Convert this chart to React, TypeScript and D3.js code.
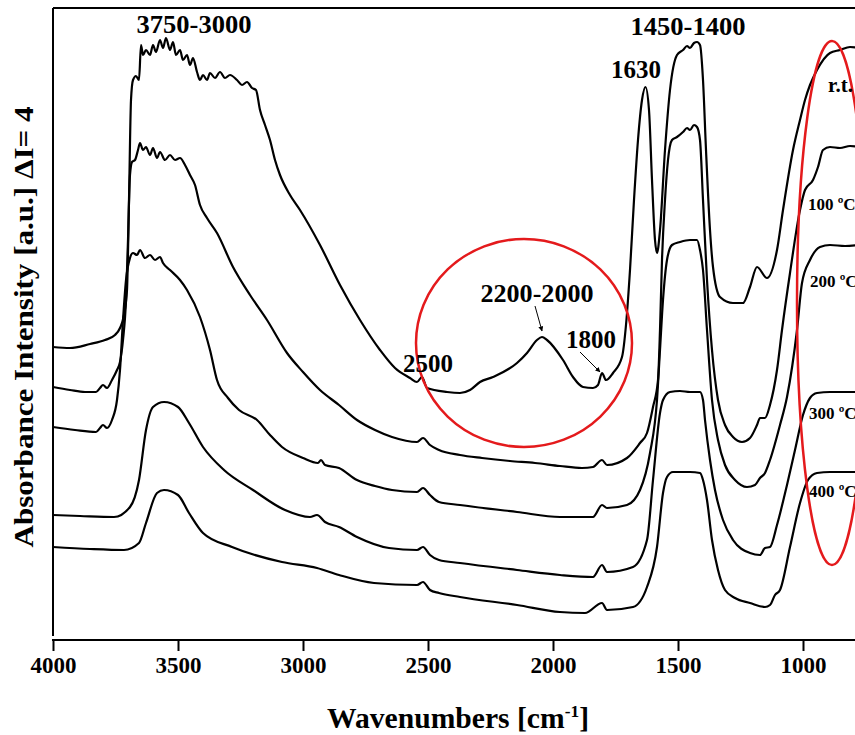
import React, { useEffect, useRef } from "react";
import * as d3 from "d3";

type P = [number, number];

const xTicks = [4000, 3500, 3000, 2500, 2000, 1500, 1000];

const RT: P[] = [
  [4000, 29.3], [3932, 29.2], [3852, 29.6], [3792, 30.0], [3752, 30.5], [3732, 31.2], [3716, 32.5],
  [3704, 35.0], [3696, 44.0], [3688, 54.0], [3680, 56.0], [3668, 56.4], [3656, 56.0], [3648, 59.5],
  [3640, 58.5], [3628, 59.0], [3612, 58.5], [3600, 59.5], [3588, 58.8], [3572, 60.0], [3560, 59.2],
  [3548, 60.2], [3532, 59.0], [3520, 59.8], [3508, 58.5], [3492, 59.0], [3480, 58.0], [3464, 58.5],
  [3452, 57.5], [3440, 58.2], [3424, 56.8], [3412, 56.0], [3400, 56.5], [3384, 56.0], [3372, 56.7],
  [3352, 56.2], [3332, 56.8], [3312, 56.2], [3292, 56.5], [3264, 56.0], [3244, 55.5], [3224, 55.8],
  [3204, 55.2], [3188, 55.0], [3172, 53.0], [3152, 51.5], [3132, 50.0], [3112, 48.0], [3092, 46.5],
  [3052, 44.5], [3012, 43.0], [2932, 39.5], [2852, 35.5], [2772, 32.0], [2692, 29.0], [2632, 27.2],
  [2572, 26.2], [2544, 25.8], [2524, 26.3], [2504, 25.2], [2424, 24.8], [2372, 24.7], [2332, 25.0],
  [2292, 25.8], [2240, 26.3], [2144, 27.7], [2104, 28.7], [2064, 30.0], [2044, 30.3], [2024, 30.0],
  [1960, 28.0], [1920, 26.3], [1880, 25.3], [1840, 25.2], [1820, 25.5], [1804, 26.7], [1788, 26.0],
  [1760, 26.7], [1724, 28.3], [1708, 31.5], [1692, 37.0], [1676, 44.0], [1660, 50.0], [1644, 54.0],
  [1630, 55.3], [1616, 53.0], [1604, 46.0], [1592, 40.0], [1584, 38.7], [1572, 41.0], [1552, 49.0],
  [1532, 55.0], [1504, 58.5], [1480, 59.0], [1464, 59.4], [1452, 59.2], [1436, 59.7], [1424, 59.8],
  [1412, 59.5], [1400, 56.0], [1388, 49.0], [1372, 41.0], [1360, 37.3], [1332, 34.3], [1280, 33.7],
  [1240, 33.7], [1212, 35.3], [1184, 37.3], [1144, 36.2], [1104, 39.0], [1080, 43.0], [1040, 49.0],
  [1012, 52.0], [992, 54.0], [972, 55.5], [944, 57.0], [892, 58.7], [852, 59.0], [812, 59.3], [772, 59.2],
];

const T100: P[] = [
  [4000, 25.3], [3932, 25.0], [3872, 24.8], [3828, 24.8], [3812, 25.2], [3800, 25.5], [3784, 25.2],
  [3764, 26.0], [3744, 27.0], [3732, 27.8], [3720, 30.0], [3708, 34.0], [3700, 40.0], [3692, 46.5],
  [3684, 47.8], [3672, 48.0], [3660, 49.0], [3652, 49.7], [3640, 49.0], [3628, 49.3], [3612, 48.5],
  [3600, 49.2], [3584, 48.2], [3572, 48.8], [3552, 48.0], [3532, 48.5], [3512, 48.0], [3492, 48.2],
  [3472, 47.5], [3452, 46.5], [3432, 45.5], [3412, 43.5], [3384, 42.2], [3344, 40.7], [3280, 37.3],
  [3212, 34.5], [3144, 32.0], [3064, 28.7], [3000, 26.8], [2932, 25.0], [2856, 23.5], [2784, 22.0],
  [2712, 21.0], [2644, 20.3], [2544, 19.8], [2520, 20.2], [2492, 19.5], [2456, 19.0], [2372, 18.5],
  [2284, 18.2], [2172, 17.9], [2072, 17.7], [1972, 17.4], [1884, 17.2], [1840, 17.3], [1804, 18.0],
  [1784, 17.5], [1704, 18.2], [1652, 19.7], [1624, 20.7], [1600, 23.3], [1580, 26.0], [1572, 31.0],
  [1564, 38.0], [1552, 44.0], [1540, 48.0], [1524, 50.0], [1504, 50.3], [1480, 50.8], [1464, 51.2],
  [1452, 51.0], [1436, 51.5], [1424, 51.3], [1412, 50.0], [1400, 44.0], [1384, 36.0], [1364, 29.0],
  [1340, 24.0], [1312, 21.5], [1280, 20.3], [1244, 19.8], [1212, 20.2], [1184, 21.5], [1172, 22.2],
  [1152, 22.2], [1132, 23.5], [1104, 27.0], [1084, 31.0], [1052, 36.7], [1012, 43.0], [992, 45.0],
  [960, 46.0], [940, 47.3], [920, 49.0], [892, 49.3], [852, 49.2], [812, 49.4], [772, 49.3],
];

const T200: P[] = [
  [4000, 21.3], [3912, 21.0], [3828, 20.8], [3812, 21.2], [3800, 21.5], [3784, 21.2], [3764, 22.0],
  [3744, 24.0], [3732, 27.0], [3720, 32.0], [3708, 36.0], [3692, 38.2], [3680, 38.7], [3664, 38.5],
  [3652, 39.0], [3632, 38.2], [3612, 38.5], [3592, 38.0], [3572, 38.3], [3560, 37.7], [3532, 37.0],
  [3492, 36.0], [3464, 35.0], [3412, 32.3], [3372, 29.0], [3344, 26.0], [3300, 24.2], [3256, 23.0],
  [3184, 22.0], [3132, 20.5], [3084, 19.3], [3000, 18.2], [2940, 17.7], [2928, 18.0], [2912, 17.5],
  [2856, 17.2], [2784, 16.0], [2712, 15.4], [2644, 15.0], [2544, 14.8], [2520, 15.2], [2492, 14.5],
  [2456, 13.8], [2372, 13.5], [2144, 12.8], [1972, 12.3], [1840, 12.3], [1804, 13.5], [1784, 13.2],
  [1704, 13.5], [1652, 15.0], [1612, 18.7], [1584, 24.0], [1572, 29.0], [1560, 34.0], [1544, 38.0],
  [1524, 39.5], [1492, 39.8], [1452, 40.0], [1424, 40.0], [1412, 39.0], [1400, 37.0], [1384, 31.0],
  [1364, 24.0], [1340, 20.0], [1312, 17.5], [1272, 16.0], [1224, 15.3], [1192, 15.5], [1172, 16.2],
  [1152, 16.7], [1132, 18.0], [1092, 21.5], [1064, 24.3], [1024, 31.0], [1004, 35.7], [972, 38.0],
  [932, 39.3], [892, 39.5], [832, 39.4], [772, 39.5],
];

const T300: P[] = [
  [4000, 12.5], [3892, 12.4], [3756, 12.3], [3692, 13.3], [3656, 16.0], [3628, 21.0], [3600, 23.3],
  [3556, 23.8], [3500, 23.3], [3456, 21.7], [3400, 19.3], [3316, 17.0], [3200, 15.0], [3072, 13.0],
  [2972, 12.3], [2944, 12.5], [2912, 11.8], [2856, 11.3], [2784, 10.3], [2656, 9.2], [2544, 9.0],
  [2520, 9.3], [2492, 8.5], [2456, 8.0], [2372, 7.7], [2144, 7.0], [1972, 6.5], [1840, 6.3],
  [1804, 7.5], [1784, 6.8], [1680, 7.3], [1624, 10.0], [1600, 16.0], [1572, 22.7], [1560, 24.0],
  [1532, 24.8], [1492, 24.9], [1452, 24.8], [1412, 24.8], [1400, 24.0], [1392, 22.0], [1372, 18.0],
  [1352, 15.0], [1320, 12.0], [1280, 10.0], [1212, 8.7], [1172, 8.5], [1152, 9.2], [1132, 9.3],
  [1104, 11.5], [1064, 15.5], [1032, 19.0], [1000, 22.5], [972, 24.2], [944, 24.7], [892, 24.8],
  [772, 24.8],
];

const T400: P[] = [
  [4000, 9.3], [3852, 9.1], [3716, 9.0], [3656, 9.7], [3628, 11.7], [3584, 14.7], [3556, 15.0],
  [3500, 14.5], [3456, 12.7], [3400, 10.7], [3284, 9.3], [3084, 7.8], [2944, 7.2], [2856, 6.5],
  [2716, 5.7], [2544, 5.5], [2520, 5.8], [2492, 5.0], [2456, 4.7], [2372, 4.3], [2144, 3.5],
  [1972, 2.8], [1872, 2.7], [1804, 3.7], [1784, 3.0], [1680, 3.3], [1624, 5.3], [1584, 9.3],
  [1560, 14.7], [1544, 16.3], [1520, 16.8], [1452, 16.8], [1412, 16.7], [1400, 16.0], [1384, 14.0],
  [1364, 10.0], [1340, 7.0], [1312, 5.0], [1272, 4.2], [1212, 3.7], [1152, 3.3], [1132, 3.5],
  [1112, 4.5], [1092, 5.0], [1052, 9.3], [1012, 13.7], [980, 16.0], [944, 16.7], [892, 16.8],
  [772, 16.8],
];

const seriesList = [RT, T100, T200, T300, T400];

const FONT = "'Liberation Serif', 'Times New Roman', serif";

export default function App() {
  const axisRef = useRef<SVGGElement>(null);
  const x = d3.scaleLinear().domain([4000, 1000]).range([53, 803]);
  const y = d3.scaleLinear().domain([0, 63.2]).range([640, 8]);
  const line = d3
    .line<P>()
    .x((d) => x(d[0]))
    .y((d) => y(d[1]))
    .curve(d3.curveMonotoneX);

  useEffect(() => {
    if (!axisRef.current) return;
    const g = d3.select(axisRef.current);
    g.selectAll("*").remove();
    const ax = d3
      .axisBottom(x)
      .tickValues(xTicks)
      .tickSize(11)
      .tickSizeOuter(0)
      .tickPadding(6)
      .tickFormat((d) => String(d));
    g.call(ax);
    g.select(".domain").remove();
    g.selectAll(".tick line").attr("stroke", "#000").attr("stroke-width", 2);
    g.selectAll(".tick text")
      .attr("fill", "#000")
      .attr("font-family", FONT)
      .attr("font-weight", "bold")
      .attr("font-size", 23);
  }, []);

  return (
    <svg
      width={855}
      height={735}
      style={{ position: "absolute", left: 0, top: 0, background: "#fff" }}
    >
      <rect x={0} y={0} width={855} height={735} fill="#fff" />
      <line x1={53} y1={8} x2={53} y2={636} stroke="#000" strokeWidth={2} />
      <line x1={53} y1={8} x2={860} y2={8} stroke="#000" strokeWidth={2} />
      <line x1={52} y1={640} x2={860} y2={640} stroke="#000" strokeWidth={2.2} />
      <g ref={axisRef} transform="translate(0,640)" />

      {seriesList.map((s, i) => (
        <path key={i} d={line(s) || ""} fill="none" stroke="#000" strokeWidth={2.2} strokeLinejoin="round" />
      ))}

      <ellipse cx={524} cy={343} rx={108} ry={104} fill="none" stroke="#e41a1c" strokeWidth={2.5} />
      <ellipse cx={832} cy={303} rx={35} ry={262} fill="none" stroke="#e41a1c" strokeWidth={2.5} />

      <g fontFamily={FONT} fontWeight="bold" fill="#000">
        <text x={194} y={33} fontSize={25} textAnchor="middle" textLength={115} lengthAdjust="spacingAndGlyphs">3750-3000</text>
        <text x={688} y={35} fontSize={25} textAnchor="middle" textLength={115} lengthAdjust="spacingAndGlyphs">1450-1400</text>
        <text x={636} y={78} fontSize={25} textAnchor="middle">1630</text>
        <text x={537} y={302} fontSize={25} textAnchor="middle" textLength={113} lengthAdjust="spacingAndGlyphs">2200-2000</text>
        <text x={428} y={372} fontSize={25} textAnchor="middle">2500</text>
        <text x={591} y={348} fontSize={25} textAnchor="middle">1800</text>
        <text x={828} y={92} fontSize={21}>r.t.</text>
        <text x={808} y={210} fontSize={17}>100 ºC</text>
        <text x={810} y={287} fontSize={17}>200 ºC</text>
        <text x={809} y={419} fontSize={17}>300 ºC</text>
        <text x={809} y={497} fontSize={17}>400 ºC</text>
      </g>

      <defs>
        <marker id="ah" viewBox="0 0 10 10" refX={9} refY={5} markerWidth={5} markerHeight={5} orient="auto">
          <path d="M0,0 L10,5 L0,10 z" fill="#000" />
        </marker>
      </defs>
      <line x1={535} y1={306} x2={542} y2={331} stroke="#000" strokeWidth={1} markerEnd="url(#ah)" />
      <line x1={580} y1={352} x2={600} y2={372} stroke="#000" strokeWidth={1} markerEnd="url(#ah)" />

      <text
        x={327}
        y={728}
        fontFamily={FONT}
        fontWeight="bold"
        fontSize={29}
        textLength={262}
        lengthAdjust="spacingAndGlyphs"
      >
        Wavenumbers [cm<tspan dy={-11} fontSize={17}>-1</tspan><tspan dy={11}>]</tspan>
      </text>
      <text
        transform="translate(33,327) rotate(-90)"
        textAnchor="middle"
        fontFamily={FONT}
        fontWeight="bold"
        fontSize={27}
        textLength={441}
        lengthAdjust="spacingAndGlyphs"
      >
        Absorbance Intensity [a.u.] ΔI= 4
      </text>
    </svg>
  );
}
